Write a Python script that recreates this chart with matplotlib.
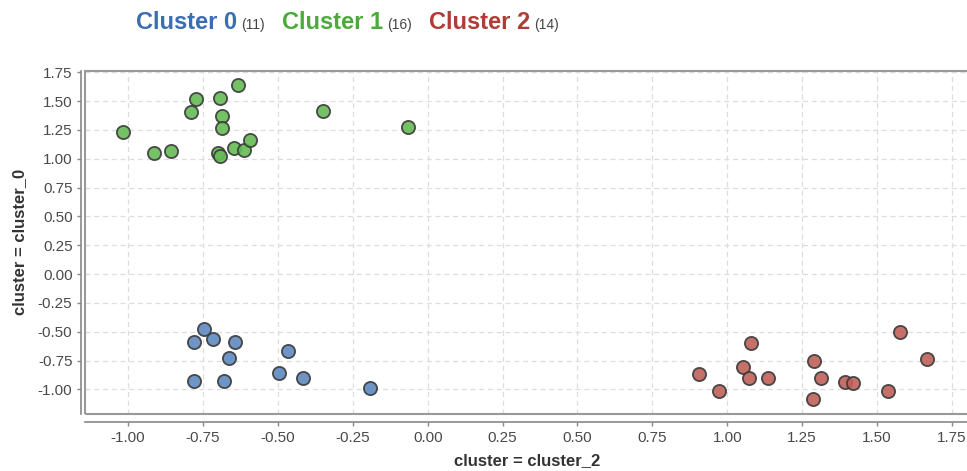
import numpy as np
import matplotlib
matplotlib.use("Agg")
import matplotlib.pyplot as plt
from matplotlib.patches import Rectangle

plt.rcParams["font.family"] = ["Liberation Sans", "DejaVu Sans"]
plt.rcParams["axes.unicode_minus"] = False

# legend entries
cluster_names = ["Cluster 0", "Cluster 1", "Cluster 2"]
cluster_counts = [11, 16, 14]

# points
c0_x = [-0.747, -0.781, -0.718, -0.642, -0.664, -0.466, -0.781, -0.681, -0.498, -0.416, -0.191]
c0_y = [-0.476, -0.589, -0.563, -0.589, -0.725, -0.664, -0.925, -0.925, -0.860, -0.898, -0.988]

c1_x = [-1.017, -0.914, -0.857, -0.790, -0.772, -0.694, -0.688, -0.688,
        -0.700, -0.694, -0.632, -0.647, -0.613, -0.594, -0.349, -0.065]
c1_y = [1.230, 1.053, 1.068, 1.403, 1.516, 1.527, 1.374, 1.264,
        1.053, 1.024, 1.640, 1.091, 1.076, 1.163, 1.415, 1.278]

c2_x = [0.906, 0.972, 1.078, 1.054, 1.074, 1.135, 1.289, 1.314,
        1.285, 1.392, 1.419, 1.538, 1.576, 1.667]
c2_y = [-0.864, -1.011, -0.600, -0.803, -0.901, -0.901, -0.751, -0.901,
        -1.086, -0.936, -0.947, -1.011, -0.502, -0.739]

x_ticks = [-1.00, -0.75, -0.50, -0.25, 0.00, 0.25, 0.50, 0.75, 1.00, 1.25, 1.50, 1.75]
y_ticks = [-1.00, -0.75, -0.50, -0.25, 0.00, 0.25, 0.50, 0.75, 1.00, 1.25, 1.50, 1.75]

fill_colors = ["#5f89c0", "#66bb55", "#c0605a"]
title_colors = ["#3b6db3", "#4aab3a", "#b03c36"]

W, H = 967, 471
fig = plt.figure(figsize=(W / 100, H / 100), dpi=100)
ax = fig.add_axes([85 / W, 1 - 414 / H, (969 - 85) / W, (414 - 70.5) / H])

for xs, ys, col in zip([c0_x, c1_x, c2_x], [c0_y, c1_y, c2_y], fill_colors):
    ax.scatter(xs, ys, s=90, c=col, alpha=0.9, edgecolors="#3a3a3a",
               linewidths=1.3, zorder=3)

ax.set_xlim(-1.144, 1.807)
ax.set_ylim(-1.213, 1.766)
ax.set_xticks(x_ticks)
ax.set_yticks(y_ticks)
ax.set_xticklabels(["%.2f" % v for v in x_ticks])
ax.set_yticklabels(["%.2f" % v for v in y_ticks])
ax.grid(True, color="#dddddd", linestyle=(0, (4, 3)), linewidth=0.9, zorder=0)

# frame box plus offset axis lines
for s in ["top", "right"]:
    ax.spines[s].set_visible(False)
ax.spines["left"].set_position(("outward", 3))
ax.spines["bottom"].set_position(("outward", 6))
for s in ["left", "bottom"]:
    ax.spines[s].set_color("#888888")
    ax.spines[s].set_linewidth(1.2)
ax.add_patch(Rectangle((0, 0), 1, 1, transform=ax.transAxes, fill=False,
                       edgecolor="#999999", linewidth=1.5, clip_on=False, zorder=4))

ax.tick_params(axis="both", direction="out", length=3, width=1, color="#888888",
               labelsize=11, labelcolor="#4a4a4a", pad=3)

ax.set_xlabel("cluster = cluster_2", fontsize=12, fontweight="bold", color="#333333", labelpad=6)
ax.set_ylabel("cluster = cluster_0", fontsize=12, fontweight="bold", color="#333333", labelpad=8)

# legend drawn as a row of text
fig.canvas.draw()
renderer = fig.canvas.get_renderer()
x = 136
base = 1 - 29 / H
for name, cnt, col in zip(cluster_names, cluster_counts, title_colors):
    t = fig.text(x / W, base, name, fontsize=17, fontweight="bold", color=col, va="baseline")
    x = t.get_window_extent(renderer).x1 + 4
    t2 = fig.text(x / W, base, "(%d)" % cnt, fontsize=10, color="#444444", va="baseline")
    x = t2.get_window_extent(renderer).x1 + 17

fig.savefig("out.png", dpi=100)
